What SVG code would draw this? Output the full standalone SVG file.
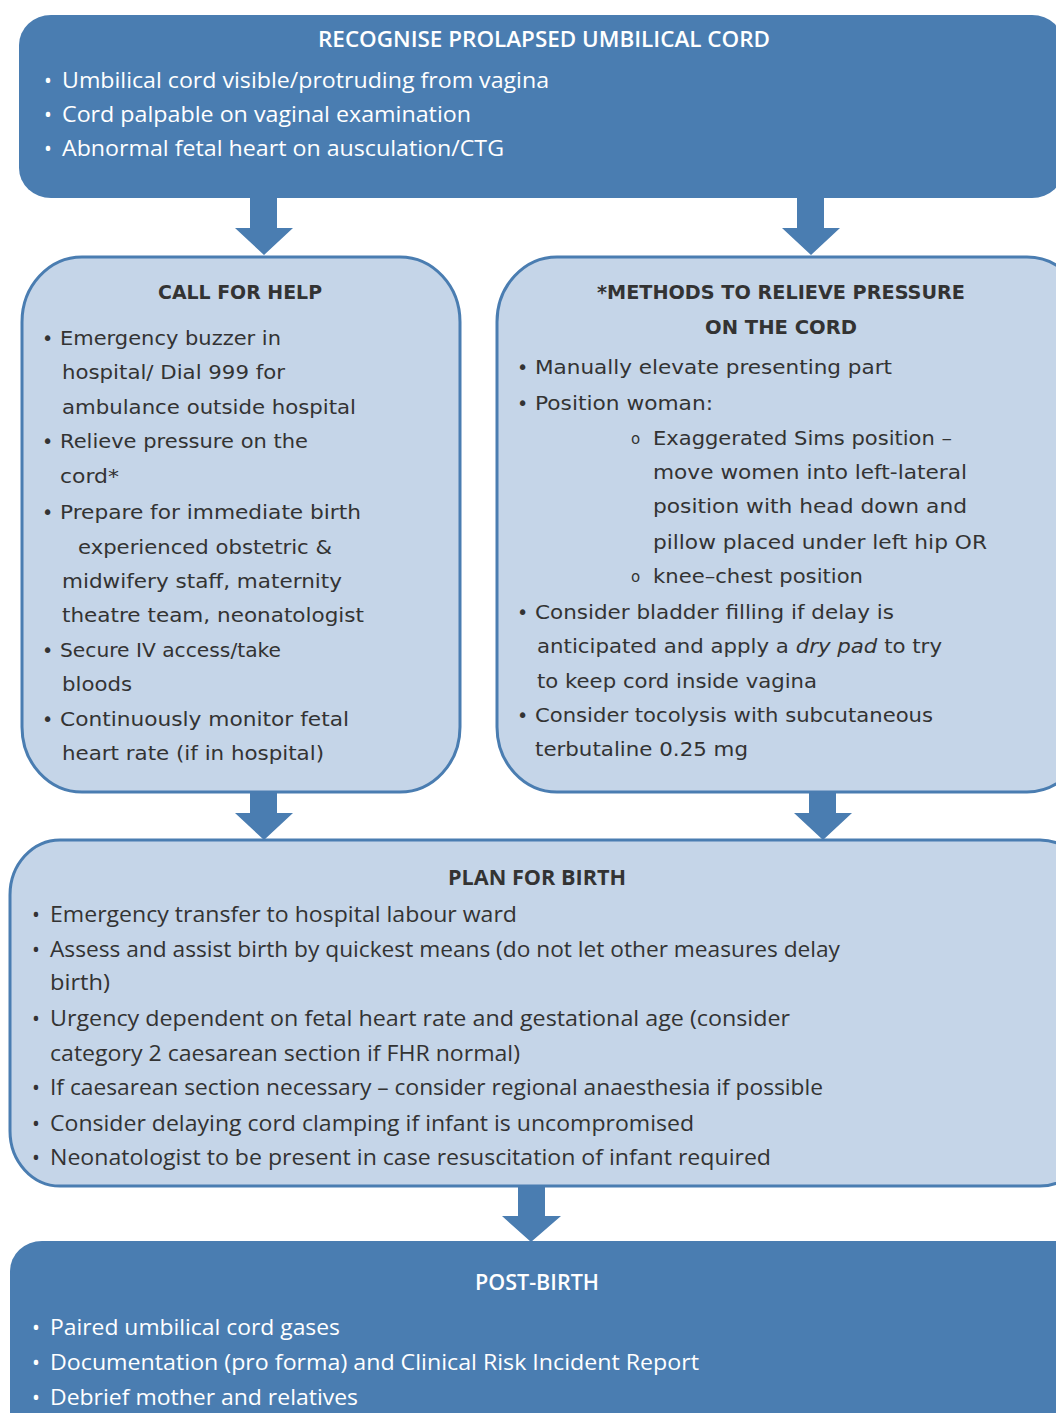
<svg xmlns="http://www.w3.org/2000/svg" width="1056" height="1413" viewBox="0 0 1056 1413">
<style>
.dk{fill:#4a7db1}
.lt{fill:#c5d5e8;stroke:#4a7db1;stroke-width:3}
.arr{fill:#4a7db1}
.wt{font-family:"Open Sans","Liberation Sans",sans-serif;font-size:21px;fill:#ffffff}
.wtb{font-family:"Open Sans","Liberation Sans",sans-serif;font-size:21px;font-weight:600;fill:#ffffff}
.bx{font-family:"DejaVu Sans","Liberation Sans",sans-serif;font-size:19px;fill:#333333}
.bxb{font-family:"DejaVu Sans","Liberation Sans",sans-serif;font-size:19px;font-weight:bold;fill:#333333}
.pl{font-family:"Open Sans","Liberation Sans",sans-serif;font-size:21px;fill:#333333}
.plb{font-family:"Open Sans","Liberation Sans",sans-serif;font-size:21px;font-weight:700;fill:#333333}
.sub{font-family:"DejaVu Sans","Liberation Sans",sans-serif;font-size:15px;fill:#333333}
</style>
<rect width="1056" height="1413" fill="#ffffff"/>

<g id="connectors">
<polygon class="arr" points="250,196 277,196 277,228 293,228 264,255 235,228 250,228"/>
<polygon class="arr" points="797,196 824,196 824,228 840,228 811,255 782,228 797,228"/>
<polygon class="arr" points="250,790 277,790 277,813 293,813 264,840 235,813 250,813"/>
<polygon class="arr" points="809,790 836,790 836,813 852,813 823,840 794,813 809,813"/>
<polygon class="arr" points="518,1185 545,1185 545,1216 561,1216 531,1242 502,1216 518,1216"/>
</g>

<g id="recognise">
<rect class="dk" x="19" y="15" width="1045" height="183" rx="32" ry="30"/>
<text class="wtb" x="544" y="47" text-anchor="middle" textLength="452" lengthAdjust="spacingAndGlyphs">RECOGNISE PROLAPSED UMBILICAL CORD</text>
<text class="wt" x="44" y="88">•</text>
<text class="wt" x="62" y="88" textLength="487" lengthAdjust="spacingAndGlyphs">Umbilical cord visible/protruding from vagina</text>
<text class="wt" x="44" y="122">•</text>
<text class="wt" x="62" y="122" textLength="409" lengthAdjust="spacingAndGlyphs">Cord palpable on vaginal examination</text>
<text class="wt" x="44" y="156">•</text>
<text class="wt" x="62" y="156" textLength="442" lengthAdjust="spacingAndGlyphs">Abnormal fetal heart on ausculation/CTG</text>
</g>

<g id="call-for-help">
<rect class="lt" x="22" y="257" width="438" height="535" rx="60" ry="65"/>
<text class="bxb" x="240" y="299" text-anchor="middle" textLength="164" lengthAdjust="spacingAndGlyphs">CALL FOR HELP</text>
<text class="bx" x="42" y="345">•</text>
<text class="bx" x="60" y="345" textLength="221" lengthAdjust="spacingAndGlyphs">Emergency buzzer in</text>
<text class="bx" x="62" y="379" textLength="223" lengthAdjust="spacingAndGlyphs">hospital/ Dial 999 for</text>
<text class="bx" x="62" y="414" textLength="294" lengthAdjust="spacingAndGlyphs">ambulance outside hospital</text>
<text class="bx" x="42" y="448">•</text>
<text class="bx" x="60" y="448" textLength="248" lengthAdjust="spacingAndGlyphs">Relieve pressure on the</text>
<text class="bx" x="60" y="483" textLength="59" lengthAdjust="spacingAndGlyphs">cord*</text>
<text class="bx" x="42" y="519">•</text>
<text class="bx" x="60" y="519" textLength="301" lengthAdjust="spacingAndGlyphs">Prepare for immediate birth</text>
<text class="bx" x="78" y="554" textLength="254" lengthAdjust="spacingAndGlyphs">experienced obstetric &amp;</text>
<text class="bx" x="62" y="588" textLength="280" lengthAdjust="spacingAndGlyphs">midwifery staff, maternity</text>
<text class="bx" x="62" y="622" textLength="302" lengthAdjust="spacingAndGlyphs">theatre team, neonatologist</text>
<text class="bx" x="42" y="657">•</text>
<text class="bx" x="60" y="657" textLength="221" lengthAdjust="spacingAndGlyphs">Secure IV access/take</text>
<text class="bx" x="62" y="691" textLength="70" lengthAdjust="spacingAndGlyphs">bloods</text>
<text class="bx" x="42" y="726">•</text>
<text class="bx" x="60" y="726" textLength="289" lengthAdjust="spacingAndGlyphs">Continuously monitor fetal</text>
<text class="bx" x="62" y="760" textLength="262" lengthAdjust="spacingAndGlyphs">heart rate (if in hospital)</text>
</g>

<g id="methods">
<rect class="lt" x="497" y="257" width="590" height="535" rx="60" ry="65"/>
<text class="bxb" x="781" y="299" text-anchor="middle" textLength="368" lengthAdjust="spacingAndGlyphs">*METHODS TO RELIEVE PRESSURE</text>
<text class="bxb" x="781" y="334" text-anchor="middle" textLength="152" lengthAdjust="spacingAndGlyphs">ON THE CORD</text>
<text class="bx" x="517" y="374">•</text>
<text class="bx" x="535" y="374" textLength="357" lengthAdjust="spacingAndGlyphs">Manually elevate presenting part</text>
<text class="bx" x="517" y="410">•</text>
<text class="bx" x="535" y="410" textLength="178" lengthAdjust="spacingAndGlyphs">Position woman:</text>
<text class="sub" x="631" y="444">o</text>
<text class="bx" x="653" y="445" textLength="299" lengthAdjust="spacingAndGlyphs">Exaggerated Sims position –</text>
<text class="bx" x="653" y="479" textLength="314" lengthAdjust="spacingAndGlyphs">move women into left-lateral</text>
<text class="bx" x="653" y="513" textLength="314" lengthAdjust="spacingAndGlyphs">position with head down and</text>
<text class="bx" x="653" y="549" textLength="334" lengthAdjust="spacingAndGlyphs">pillow placed under left hip OR</text>
<text class="sub" x="631" y="582">o</text>
<text class="bx" x="653" y="583" textLength="210" lengthAdjust="spacingAndGlyphs">knee–chest position</text>
<text class="bx" x="517" y="619">•</text>
<text class="bx" x="535" y="619" textLength="359" lengthAdjust="spacingAndGlyphs">Consider bladder filling if delay is</text>
<text class="bx" x="537" y="653" textLength="405" lengthAdjust="spacingAndGlyphs">anticipated and apply a <tspan font-style="italic">dry pad</tspan> to try</text>
<text class="bx" x="537" y="688" textLength="280" lengthAdjust="spacingAndGlyphs">to keep cord inside vagina</text>
<text class="bx" x="517" y="722">•</text>
<text class="bx" x="535" y="722" textLength="398" lengthAdjust="spacingAndGlyphs">Consider tocolysis with subcutaneous</text>
<text class="bx" x="535" y="756" textLength="213" lengthAdjust="spacingAndGlyphs">terbutaline 0.25 mg</text>
</g>

<g id="plan-for-birth">
<rect class="lt" x="10" y="840" width="1080" height="346" rx="50" ry="55"/>
<text class="plb" x="537" y="885" text-anchor="middle" textLength="178" lengthAdjust="spacingAndGlyphs">PLAN FOR BIRTH</text>
<text class="pl" x="32" y="922">•</text>
<text class="pl" x="50" y="922" textLength="467" lengthAdjust="spacingAndGlyphs">Emergency transfer to hospital labour ward</text>
<text class="pl" x="32" y="957">•</text>
<text class="pl" x="50" y="957" textLength="790" lengthAdjust="spacingAndGlyphs">Assess and assist birth by quickest means (do not let other measures delay</text>
<text class="pl" x="50" y="990" textLength="60" lengthAdjust="spacingAndGlyphs">birth)</text>
<text class="pl" x="32" y="1026">•</text>
<text class="pl" x="50" y="1026" textLength="740" lengthAdjust="spacingAndGlyphs">Urgency dependent on fetal heart rate and gestational age (consider</text>
<text class="pl" x="50" y="1061" textLength="470" lengthAdjust="spacingAndGlyphs">category 2 caesarean section if FHR normal)</text>
<text class="pl" x="32" y="1095">•</text>
<text class="pl" x="50" y="1095" textLength="773" lengthAdjust="spacingAndGlyphs">If caesarean section necessary – consider regional anaesthesia if possible</text>
<text class="pl" x="32" y="1131">•</text>
<text class="pl" x="50" y="1131" textLength="644" lengthAdjust="spacingAndGlyphs">Consider delaying cord clamping if infant is uncompromised</text>
<text class="pl" x="32" y="1165">•</text>
<text class="pl" x="50" y="1165" textLength="721" lengthAdjust="spacingAndGlyphs">Neonatologist to be present in case resuscitation of infant required</text>
</g>

<g id="post-birth">
<rect class="dk" x="10" y="1241" width="1080" height="220" rx="32" ry="30"/>
<text class="wtb" x="537" y="1290" text-anchor="middle" textLength="124" lengthAdjust="spacingAndGlyphs">POST-BIRTH</text>
<text class="wt" x="32" y="1335">•</text>
<text class="wt" x="50" y="1335" textLength="290" lengthAdjust="spacingAndGlyphs">Paired umbilical cord gases</text>
<text class="wt" x="32" y="1370">•</text>
<text class="wt" x="50" y="1370" textLength="649" lengthAdjust="spacingAndGlyphs">Documentation (pro forma) and Clinical Risk Incident Report</text>
<text class="wt" x="32" y="1405">•</text>
<text class="wt" x="50" y="1405" textLength="308" lengthAdjust="spacingAndGlyphs">Debrief mother and relatives</text>
</g>
</svg>
